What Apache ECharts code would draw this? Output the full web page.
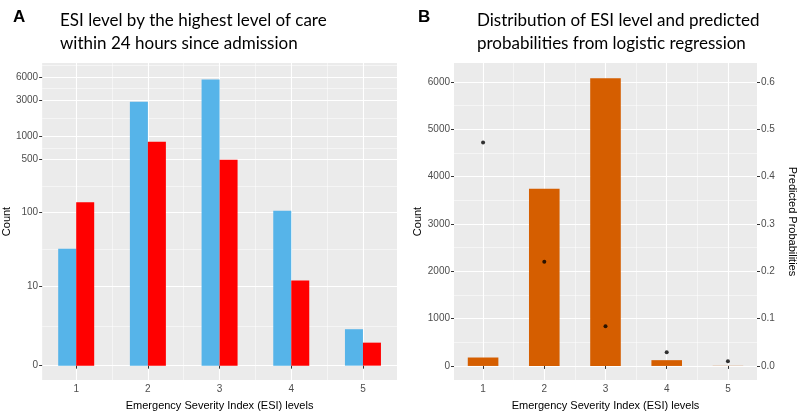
<!DOCTYPE html>
<html>
<head>
<meta charset="utf-8">
<script src="https://cdn.jsdelivr.net/npm/echarts@6/dist/echarts.min.js"></script>
<style>
html,body{margin:0;padding:0;background:#fff}
#main{width:799px;height:416px}
</style>
</head>
<body>
<div id="main"></div>
<script>
// ESI levels on the x axis
var esiLevels = [1, 2, 3, 4, 5];
// panel A: counts split by highest level of care
var countBlue = [33, 2857, 5570, 106, 2];
var countRed = [137, 854, 494, 12, 1];
// panel B: total counts and predicted probabilities
var countAll = [178, 3740, 6075, 122, 3];
var predProb = [0.472, 0.220, 0.084, 0.029, 0.010];
// tick labels
var logBreaks = [0, 10, 100, 500, 1000, 3000, 6000];
var countBreaks = [0, 1000, 2000, 3000, 4000, 5000, 6000];
var probBreaks = [0, 0.1, 0.2, 0.3, 0.4, 0.5, 0.6];
var xMinor = [1.5, 2.5, 3.5, 4.5];

var GRAY = '#EBEBEB', TXT = '#4D4D4D', FONT = 'Liberation Sans';

function tr(v){ return Math.log10(v + 1); }

// minor breaks of the log scale, midway between majors
var logMajorT = logBreaks.map(tr);
var logMinorT = [];
for (var i = 1; i < logMajorT.length; i++) logMinorT.push((logMajorT[i-1] + logMajorT[i]) / 2);
logMinorT.push(logMajorT[6] + (logMajorT[6] - logMajorT[5]) / 2);
var countMinor = [500, 1500, 2500, 3500, 4500, 5500];

function majorAxis(gi, vals, min, max, fmt, extra){
    var a = {
        type: 'value', gridIndex: gi, min: min, max: max,
        axisLine: {show: false},
        axisTick: {show: true, length: 3, customValues: vals, lineStyle: {color: '#333', width: 1}},
        axisLabel: {customValues: vals, color: TXT, fontSize: 10, fontFamily: FONT, margin: 4, formatter: fmt},
        splitLine: {show: true, lineStyle: {color: '#fff', width: 1.1}},
        nameTextStyle: {color: '#000', fontSize: 11, fontFamily: FONT}
    };
    for (var k in extra) a[k] = extra[k];
    return a;
}
function minorAxis(gi, vals, min, max, pos){
    return {
        type: 'value', gridIndex: gi, min: min, max: max, position: pos,
        axisLine: {show: false},
        axisTick: {show: false, customValues: vals},
        axisLabel: {show: false, customValues: vals},
        splitLine: {show: true, lineStyle: {color: '#fff', width: 0.5}}
    };
}
function plain(v){ return String(Math.round(v)); }

var xMin = 0.525, xMax = 5.475;
var yMinA = -0.188, yMaxA = 3.963;
var yMinB = -297, yMaxB = 6398;

var option = {
    backgroundColor: '#fff',
    animation: false,
    title: [
        {text: 'A', left: 8, top: 4, textStyle: {fontSize: 17, fontWeight: 'bold', fontFamily: FONT, color: '#000'}},
        {text: 'ESI level by the highest level of care\nwithin 24 hours since admission', left: 55, top: 4,
         textStyle: {fontSize: 17, fontWeight: 'normal', fontFamily: 'Lato', color: '#000', lineHeight: 23}},
        {text: 'B', left: 413, top: 4, textStyle: {fontSize: 17, fontWeight: 'bold', fontFamily: FONT, color: '#000'}},
        {text: 'Distribution of ESI level and predicted\nprobabilities from logistic regression', left: 472, top: 4,
         textStyle: {fontSize: 17, fontWeight: 'normal', fontFamily: 'Lato', color: '#000', lineHeight: 23}}
    ],
    grid: [
        {left: 41, top: 63, width: 356, height: 325, show: true, backgroundColor: GRAY, borderWidth: 0},
        {left: 454, top: 63, width: 303, height: 325, show: true, backgroundColor: GRAY, borderWidth: 0}
    ],
    xAxis: [
        minorAxis(0, xMinor, xMin, xMax, 'top'),
        majorAxis(0, esiLevels, xMin, xMax, plain,
            {position: 'bottom', name: 'Emergency Severity Index (ESI) levels', nameLocation: 'middle', nameGap: 20}),
        minorAxis(1, xMinor, xMin, xMax, 'top'),
        majorAxis(1, esiLevels, xMin, xMax, plain,
            {position: 'bottom', name: 'Emergency Severity Index (ESI) levels', nameLocation: 'middle', nameGap: 20})
    ],
    yAxis: [
        minorAxis(0, logMinorT, yMinA, yMaxA, 'right'),
        majorAxis(0, logMajorT, yMinA, yMaxA, function(v){ return String(Math.round(Math.pow(10, v) - 1)); },
            {position: 'left', name: 'Count', nameLocation: 'middle', nameGap: 21}),
        minorAxis(1, countMinor, yMinB, yMaxB, 'right'),
        majorAxis(1, countBreaks, yMinB, yMaxB, plain,
            {position: 'left', name: 'Count', nameLocation: 'middle', nameGap: 22}),
        majorAxis(1, probBreaks, yMinB / 10000, yMaxB / 10000, function(v){ return v.toFixed(1); },
            {position: 'right', splitLine: {show: false}, name: 'Predicted Probabilities', nameLocation: 'middle', nameRotate: -90, nameGap: 30})
    ],
    series: [
        {type: 'bar', xAxisIndex: 1, yAxisIndex: 1, barWidth: 18, barGap: '0%', itemStyle: {color: '#56B4E9'},
         data: esiLevels.map(function(x, i){ return [x, tr(countBlue[i])]; })},
        {type: 'bar', xAxisIndex: 1, yAxisIndex: 1, barWidth: 18, barGap: '0%', itemStyle: {color: '#FF0000'},
         data: esiLevels.map(function(x, i){ return [x, tr(countRed[i])]; })},
        {type: 'bar', xAxisIndex: 3, yAxisIndex: 3, barWidth: 30.6, itemStyle: {color: '#D55E00'},
         data: esiLevels.map(function(x, i){ return [x, countAll[i]]; })},
        {type: 'scatter', xAxisIndex: 3, yAxisIndex: 4, symbolSize: 4, itemStyle: {color: '#000'},
         data: esiLevels.map(function(x, i){ return [x, predProb[i]]; })}
    ]
};

var myChart = echarts.init(document.getElementById('main'), null, {renderer: 'canvas'});
myChart.setOption(option);
</script>
</body>
</html>
